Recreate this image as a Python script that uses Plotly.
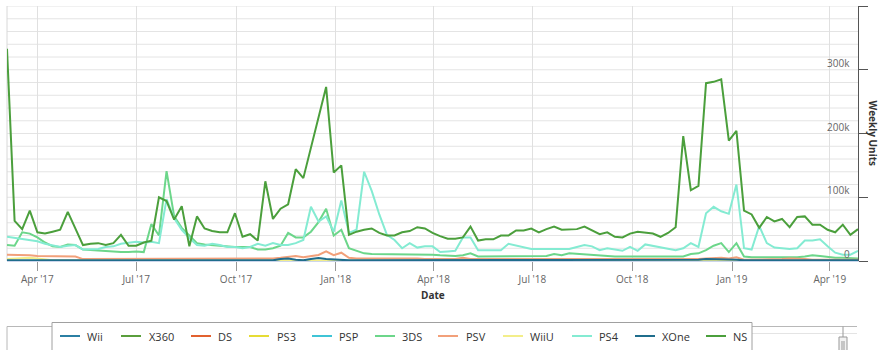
import pandas as pd
import plotly.graph_objects as go

# ---------------------------------------------------------------------------
# Weekly hardware units, one value per week (weeks end on Saturdays)
# ---------------------------------------------------------------------------
FIRST_WEEK = "2017-03-04"

NO_SALES = [
    0, 0, 0, 0, 0, 0, 0, 0, 0, 0,
    0, 0, 0, 0, 0, 0, 0, 0, 0, 0,
    0, 0, 0, 0, 0, 0, 0, 0, 0, 0,
    0, 0, 0, 0, 0, 0, 0, 0, 0, 0,
    0, 0, 0, 0, 0, 0, 0, 0, 0, 0,
    0, 0, 0, 0, 0, 0, 0, 0, 0, 0,
    0, 0, 0, 0, 0, 0, 0, 0, 0, 0,
    0, 0, 0, 0, 0, 0, 0, 0, 0, 0,
    0, 0, 0, 0, 0, 0, 0, 0, 0, 0,
    0, 0, 0, 0, 0, 0, 0, 0, 0, 0,
    0, 0, 0, 0, 0, 0, 0, 0, 0, 0,
    0, 0, 0,
]

wii = NO_SALES
x360 = NO_SALES
ds = NO_SALES
ps3 = NO_SALES
psp = NO_SALES

n3ds = [
    25000, 24000, 45000, 43000, 37000, 29000, 23000, 22000, 26000, 25000,
    18000, 17000, 16000, 16000, 15000, 14000, 14000, 15000, 14000, 58000,
    40000, 141000, 70000, 52000, 40000, 28000, 26000, 25000, 23000, 22000,
    22000, 22000, 22000, 18000, 18000, 20000, 24000, 44000, 37000, 37000,
    46000, 61000, 82000, 40000, 49000, 20000, 16000, 12000, 11000, 11000,
    11000, 11000, 10000, 10000, 10000, 10000, 10000, 9000, 8000, 8000,
    9000, 12000, 7000, 7000, 7000, 7000, 7000, 7000, 7000, 7000,
    7000, 8000, 11000, 9000, 12000, 11000, 11000, 9000, 8000, 8000,
    7000, 7000, 7000, 7000, 6000, 6000, 6000, 6000, 6000, 7000,
    11000, 12000, 17000, 24000, 28000, 14000, 28000, 7000, 6000, 6000,
    6000, 5000, 5000, 5000, 6000, 7000, 9000, 8000, 6000, 5000,
    5000, 4000, 4000,
]

psv = [
    10000, 10000, 9000, 9000, 8000, 8000, 8000, 7000, 7000, 7000,
    3000, 3000, 4000, 4000, 4000, 4000, 4000, 4000, 4000, 4000,
    4000, 4000, 4000, 4000, 4000, 4000, 3000, 3000, 3000, 3000,
    3000, 3000, 3000, 3000, 3000, 4000, 5000, 7000, 8000, 6000,
    8000, 9500, 15000, 9000, 13000, 5000, 4000, 4000, 4000, 4000,
    4000, 5000, 4000, 4000, 4000, 3000, 3000, 3000, 3000, 3000,
    5000, 3000, 3000, 3000, 3000, 3000, 3000, 3000, 3000, 3000,
    3000, 3000, 3000, 3000, 3000, 3000, 3000, 3000, 2000, 2000,
    2000, 2000, 2000, 2000, 2000, 2000, 2000, 2000, 2000, 3000,
    3000, 3000, 4000, 5000, 5000, 4000, 6000, 2000, 2000, 2000,
    2000, 2000, 3000, 4000, 4000, 3000, 2000, 2000, 2000, 2000,
    2000, 2000, 2000,
]

wiiu = [
    3000, 4000, 5000, 5000, 4000, 2000, 1000, 1000, 1000, 1000,
    0, 0, 0, 0, 0, 0, 0, 0, 0, 0,
    0, 0, 0, 0, 0, 0, 0, 0, 0, 0,
    0, 0, 0, 0, 0, 0, 0, 0, 0, 0,
    0, 0, 0, 0, 0, 0, 0, 0, 0, 0,
    0, 0, 0, 0, 0, 0, 0, 0, 0, 0,
    0, 0, 0, 0, 0, 0, 0, 0, 0, 0,
    0, 0, 0, 0, 0, 0, 0, 0, 0, 0,
    0, 0, 0, 0, 0, 0, 0, 0, 0, 0,
    0, 0, 0, 0, 0, 0, 0, 0, 0, 0,
    0, 0, 0, 0, 0, 0, 0, 0, 0, 0,
    0, 0, 0,
]

ps4 = [
    38000, 36000, 34000, 33000, 31000, 27000, 24000, 22000, 24000, 25000,
    18000, 18000, 19000, 22000, 23000, 27000, 29000, 30000, 29000, 30000,
    28000, 97000, 67000, 49000, 36000, 25000, 24000, 27000, 25000, 22000,
    22000, 20000, 22000, 27000, 24000, 28000, 25000, 25000, 28000, 33000,
    85000, 62000, 70000, 46000, 95000, 44000, 49000, 140000, 110000, 73000,
    41000, 33000, 20000, 28000, 21000, 23000, 23000, 14000, 15000, 16000,
    37000, 37000, 17000, 17000, 18000, 17000, 27000, 24000, 21000, 19000,
    19000, 19000, 20000, 19000, 19000, 22000, 25000, 23000, 17000, 20000,
    18000, 16000, 22000, 16000, 26000, 24000, 22000, 19000, 17000, 20000,
    28000, 22000, 75000, 85000, 78000, 74000, 120000, 20000, 18000, 55000,
    28000, 21000, 20000, 19000, 20000, 32000, 32000, 34000, 23000, 13000,
    10000, 10000, 16000,
]

xone = [
    1000, 1000, 1000, 1000, 1000, 1000, 1000, 1000, 1000, 1000,
    1000, 1000, 1000, 1000, 1000, 1000, 1000, 1000, 1000, 1000,
    1000, 1000, 1000, 1000, 1000, 1000, 1000, 1000, 1000, 1000,
    1000, 1000, 1000, 1000, 1000, 1000, 3000, 4000, 2000, 1000,
    3000, 4500, 3000, 2000, 2000, 1000, 1000, 1000, 1000, 1000,
    1000, 1000, 1000, 1000, 1000, 1000, 1000, 1000, 1000, 1000,
    1000, 1000, 1000, 1000, 1000, 1000, 1000, 1000, 1000, 1000,
    1000, 1000, 1000, 1000, 1000, 1000, 1000, 1000, 1000, 1000,
    1000, 1000, 1000, 1000, 1000, 1000, 1000, 1000, 1000, 2000,
    2000, 2000, 3000, 3000, 3000, 2000, 2000, 1000, 1000, 1000,
    1000, 1000, 1000, 1000, 1000, 1000, 1000, 1000, 1000, 1000,
    1000, 1000, 1000,
]

ns = [
    333000, 63000, 50000, 79000, 45000, 43000, 46000, 49000, 77000, 50000,
    25000, 27000, 28000, 25000, 28000, 41000, 24000, 24000, 29000, 32000,
    100000, 94000, 65000, 86000, 23000, 70000, 51000, 47000, 45000, 45000,
    75000, 38000, 42000, 32000, 125000, 66000, 82000, 89000, 144000, 130000,
    178000, 224000, 273000, 139000, 150000, 41000, 46000, 49000, 51000, 44000,
    40000, 40000, 45000, 47000, 53000, 51000, 44000, 39000, 35000, 35000,
    37000, 54000, 32000, 34000, 34000, 40000, 40000, 48000, 48000, 51000,
    45000, 50000, 54000, 49000, 50000, 50000, 54000, 48000, 42000, 45000,
    38000, 37000, 43000, 46000, 45000, 43000, 38000, 44000, 53000, 196000,
    111000, 118000, 279000, 281000, 285000, 189000, 204000, 79000, 73000, 52000,
    69000, 62000, 66000, 53000, 69000, 70000, 57000, 57000, 49000, 45000,
    57000, 41000, 50000,
]

PLATFORMS = ["Wii", "X360", "DS", "PS3", "PSP", "3DS", "PSV", "WiiU", "PS4", "XOne", "NS"]
VALUES = [wii, x360, ds, ps3, psp, n3ds, psv, wiiu, ps4, xone, ns]

TICK_DATES = ["2017-04-01", "2017-07-01", "2017-10-01", "2018-01-01", "2018-04-01",
              "2018-07-01", "2018-10-01", "2019-01-01", "2019-04-01"]
TICK_LABELS = ["Apr '17", "Jul '17", "Oct '17", "Jan '18", "Apr '18",
               "Jul '18", "Oct '18", "Jan '19", "Apr '19"]

Y_MAX = 400000
Y_TICKS = [0, 100000, 200000, 300000, 400000]
Y_LABELS = ["0", "100k", "200k", "300k", ""]
Y_GRID = [0, 20000, 40000, 60000, 80000, 100000, 120000, 140000, 160000, 180000,
          200000, 220000, 240000, 260000, 280000, 300000, 320000, 340000, 360000,
          380000, 400000]

# ---------------------------------------------------------------------------
# Styling
# ---------------------------------------------------------------------------
COLORS = {
    "Wii": "#2b7fa3", "X360": "#5a9e3c", "DS": "#e2612f", "PS3": "#e6dc35",
    "PSP": "#3fc4d6", "3DS": "#6cd68a", "PSV": "#f2a07a", "WiiU": "#f3ee8a",
    "PS4": "#84ebd2", "XOne": "#1f6d8c", "NS": "#4b9f3c",
}

FONT = "Open Sans, Segoe UI, sans-serif"
W, H = 879, 350
PLOT_L, PLOT_R, PLOT_T, PLOT_B = 7, 858, 6, 261


def fx(x):
    """Horizontal pixel -> paper coordinate."""
    return (x - PLOT_L) / (PLOT_R - PLOT_L)


def fy(y):
    """Vertical pixel -> paper coordinate."""
    return (PLOT_B - y) / (PLOT_B - PLOT_T)


weeks = pd.date_range(FIRST_WEEK, periods=len(ns), freq="7D")

fig = go.Figure()
for name, vals in zip(PLATFORMS, VALUES):
    fig.add_trace(go.Scatter(
        x=weeks, y=vals, name=name, mode="lines",
        line=dict(color=COLORS[name], width=2),
    ))

shapes = []
annotations = []

# horizontal grid every 20k (under the series)
for v in Y_GRID:
    shapes.append(dict(type="line", xref="paper", yref="y", x0=0, x1=1, y0=v, y1=v,
                       line=dict(color="#e4e4e4", width=1), layer="below"))

# left border of the plotting area
shapes.append(dict(type="line", xref="paper", yref="paper", x0=0, x1=0, y0=0, y1=1,
                   line=dict(color="#d8d8d8", width=1), layer="below"))

# y tick labels sit inside the plot, just above their grid line
for v, lab in zip(Y_TICKS, Y_LABELS):
    if lab:
        annotations.append(dict(text=lab, xref="paper", yref="y",
                                x=fx(852), y=v, yshift=7,
                                xanchor="right", yanchor="middle", showarrow=False,
                                font=dict(family=FONT, size=10, color="#666")))

# navigator strip below the chart
nav_top = 326.5
shapes.append(dict(type="line", xref="paper", yref="paper",
                   x0=fx(7), x1=fx(857), y0=fy(nav_top), y1=fy(nav_top),
                   line=dict(color="#b8b8b8", width=1)))
shapes.append(dict(type="line", xref="paper", yref="paper",
                   x0=fx(7), x1=fx(7), y0=fy(nav_top), y1=fy(352),
                   line=dict(color="#b8b8b8", width=1)))
shapes.append(dict(type="line", xref="paper", yref="paper",
                   x0=fx(747), x1=fx(857), y0=fy(333.5), y1=fy(333.5),
                   line=dict(color="#e4e4e4", width=1)))
shapes.append(dict(type="line", xref="paper", yref="paper",
                   x0=fx(843), x1=fx(843), y0=fy(nav_top), y1=fy(337),
                   line=dict(color="#999", width=1)))
shapes.append(dict(type="rect", xref="paper", yref="paper",
                   x0=fx(839), x1=fx(847), y0=fy(337), y1=fy(353),
                   fillcolor="#f2f2f2", line=dict(color="#999", width=1)))
for hx in (842, 844):
    shapes.append(dict(type="line", xref="paper", yref="paper",
                       x0=fx(hx), x1=fx(hx), y0=fy(341), y1=fy(352),
                       line=dict(color="#999", width=1)))

# legend box
shapes.append(dict(type="rect", xref="paper", yref="paper",
                   x0=fx(52), x1=fx(752), y0=fy(322.5), y1=fy(356),
                   fillcolor="white", line=dict(color="#a0a0a0", width=1)))

LEGEND_LINE_X = [60, 121, 191, 249, 312, 375, 438, 503, 572, 635, 706]
LEGEND_TEXT_X = [85, 147, 216, 275, 337, 400, 464, 528, 597, 660, 731]
LEGEND_Y = 336
for name, lx, tx in zip(PLATFORMS, LEGEND_LINE_X, LEGEND_TEXT_X):
    shapes.append(dict(type="line", xref="paper", yref="paper",
                       x0=fx(lx), x1=fx(lx + 20), y0=fy(LEGEND_Y), y1=fy(LEGEND_Y),
                       line=dict(color=COLORS[name], width=2)))
    annotations.append(dict(text=name, xref="paper", yref="paper",
                            x=fx(tx), y=fy(LEGEND_Y), xanchor="left", yanchor="middle",
                            showarrow=False, font=dict(family=FONT, size=11, color="#333")))

# axis titles
annotations.append(dict(text="<b>Date</b>", xref="paper", yref="paper",
                        x=fx(432.5), y=fy(295), xanchor="center", yanchor="middle",
                        showarrow=False, font=dict(family=FONT, size=10, color="#333")))
annotations.append(dict(text="<b>Weekly Units</b>", xref="paper", yref="paper",
                        x=fx(873), y=fy(133.5), xanchor="center", yanchor="middle",
                        textangle=90, showarrow=False,
                        font=dict(family=FONT, size=10, color="#333")))

fig.update_layout(
    width=W, height=H,
    margin=dict(l=PLOT_L, r=W - PLOT_R, t=PLOT_T, b=H - PLOT_B, pad=0, autoexpand=False),
    paper_bgcolor="white", plot_bgcolor="white",
    showlegend=False,
    font=dict(family=FONT, size=10, color="#666"),
    xaxis=dict(
        type="date", range=[weeks[0], weeks[-1]],
        tickvals=TICK_DATES, ticktext=TICK_LABELS,
        ticks="outside", ticklen=9, tickcolor="#999", tickwidth=1,
        showgrid=True, gridcolor="#e0e0e0", gridwidth=1,
        showline=True, linecolor="#ccd6eb", zeroline=False,
        tickfont=dict(family=FONT, size=10, color="#666"),
    ),
    yaxis=dict(
        side="right", range=[0, Y_MAX],
        tickvals=Y_TICKS, showticklabels=False,
        ticks="outside", ticklen=9, tickcolor="#555", tickwidth=1,
        showline=True, linecolor="#555", linewidth=1,
        showgrid=False, zeroline=False,
    ),
    shapes=shapes,
    annotations=annotations,
)

fig.write_html("out.html")
